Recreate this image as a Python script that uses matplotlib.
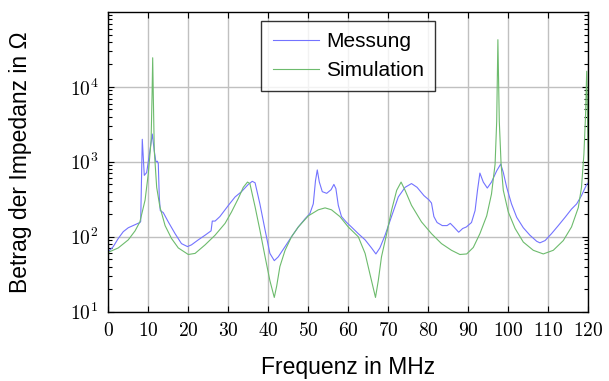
import numpy as np
import matplotlib
matplotlib.use("Agg")
import matplotlib.pyplot as plt
from matplotlib.ticker import LogLocator, FixedLocator, NullFormatter

plt.rcParams["mathtext.fontset"] = "cm"

# Messung (blue)
freq_mess = [0, 1.25, 2.5, 3.75, 5, 6.7, 7.9, 8.1, 8.5, 9.0, 9.6, 10.4, 11.0, 11.5,
             11.9, 12.25, 12.5, 12.75, 13, 13.75, 15, 16.7, 18.3, 19.8, 20.8, 22.5,
             24.2, 25.7, 26.0, 26.7, 27.9, 30.2, 31.7, 33.3, 35, 36, 36.7, 37.9,
             39.2, 40.4, 41.5, 42.5, 44.2, 45.8, 47.5, 49.2, 50.4, 51.25, 51.8,
             52.25, 52.75, 53.5, 54.6, 55.7, 56.4, 56.9, 57.5, 58.3, 59.6, 60.8,
             62.5, 64.2, 65.8, 66.9, 67.9, 69.2, 70.8, 72.5, 74.2, 75.8, 77.2,
             78.9, 80.2, 80.8, 81.4, 82.2, 83.5, 84.7, 85.5, 86.4, 87.6, 88.6,
             89.5, 90.8, 91.7, 92.3, 92.9, 93.75, 94.75, 95.8, 97.1, 98.1, 98.75,
             99.6, 100.8, 102.1, 103.75, 105.4, 107.1, 107.9, 109.2, 110.8, 112.5,
             114.2, 115.8, 117.1, 118.3, 119.6, 120]
z_mess = [63, 74, 95, 117, 132, 145, 155, 160, 2000, 660, 720, 1400, 2350, 1400,
          1000, 1020, 950, 340, 224, 210, 158, 110, 81, 74, 78, 91,
          105, 120, 162, 162, 186, 270, 340, 400, 500, 550, 525, 275,
          123, 60, 48, 54, 74, 100, 135, 174, 204, 275, 560,
          780, 540, 400, 380, 425, 500, 440, 263, 186, 155, 135,
          110, 91, 71, 59, 71, 105, 186, 340, 457, 513, 457,
          355, 309, 282, 186, 155, 141, 141, 151, 135, 115, 129,
          135, 155, 224, 417, 708, 537, 447, 537, 759, 933, 724,
          457, 275, 182, 132, 105, 87, 83, 89, 110, 141,
          182, 234, 275, 355, 500, 525]

# Simulation (green)
freq_sim = [0, 2.5, 5, 6.7, 7.9, 9.2, 10, 10.7, 10.95, 11.1, 11.25, 11.5, 12.1,
            12.9, 14.2, 15.8, 17.5, 20, 21.7, 24.2, 26.7, 29.2, 30.8, 32.5, 33.75,
            34.8, 35.4, 36.7, 37.9, 39.2, 40.4, 41.5, 42.1, 42.9, 44.2, 45.8, 47.5,
            50, 52.5, 54.2, 55.8, 57.9, 60, 62.5, 64.2, 65.4, 66.8, 67.5, 68.3,
            69.6, 70.8, 72.1, 73.2, 74.2, 75.8, 78.3, 80.8, 83.3, 85.8, 87.9, 89.6,
            91.25, 92.9, 94.6, 95.8, 96.7, 97.1, 97.4, 97.75, 98.2, 98.75, 100,
            101.7, 103.75, 106.25, 108.75, 111.25, 113.75, 115.8, 117.5, 118.3,
            118.9, 119.3, 119.6, 119.8, 120]
z_sim = [62, 71, 91, 120, 158, 309, 692, 1900, 8000, 24500, 8000, 1400, 457,
         251, 141, 95, 71, 58, 60, 78, 105, 151, 214, 324, 457,
         537, 513, 251, 123, 54, 26, 15.5, 22, 40, 66, 100, 135,
         190, 229, 243, 229, 186, 135, 100, 60, 32, 15.5, 26, 54,
         110, 224, 417, 537, 417, 263, 158, 110, 81, 66, 58, 59,
         72, 110, 190, 372, 933, 3470, 42700, 3470, 933, 417, 214,
         129, 85, 66, 59, 66, 89, 135, 245, 457,
         1260, 4000, 16200, 4000, 1000]

BLUE = "#7373ff"
GREEN = "#6dbb6d"
SANS = "Liberation Sans"

fig = plt.figure(figsize=(6.09, 3.81), dpi=100)
ax = fig.add_axes([0.1778, 0.1819, 0.7882, 0.7866])

ax.plot(freq_mess, z_mess, color=BLUE, linewidth=0.8, label="Messung")
ax.plot(freq_sim, z_sim, color=GREEN, linewidth=0.8, label="Simulation")

ax.set_yscale("log")
ax.set_xlim(0, 120)
ax.set_ylim(10, 1e5)

xticks = list(range(0, 121, 10))
ax.xaxis.set_major_locator(FixedLocator(xticks))
ax.set_xticklabels([f"${t}$" for t in xticks])
yticks = [1e1, 1e2, 1e3, 1e4]
ax.yaxis.set_major_locator(FixedLocator(yticks))
ax.set_yticklabels([f"$10^{{{int(np.log10(t))}}}$" for t in yticks])
ax.yaxis.set_minor_locator(LogLocator(base=10, subs=np.arange(2, 10)))
ax.yaxis.set_minor_formatter(NullFormatter())

ax.tick_params(which="both", direction="in", top=True, right=True,
               labelsize=14, width=0.8)
ax.tick_params(which="major", length=4.5, pad=7)
ax.tick_params(which="minor", length=3)

ax.grid(True, which="major", color="#c0c0c0", linewidth=1.0)
for sp in ax.spines.values():
    sp.set_linewidth(1.0)

ax.set_xlabel("Frequenz in MHz", fontsize=16.5, family=SANS, labelpad=11)
ax.set_ylabel("Betrag der Impedanz in Ω", fontsize=16.5, family=SANS, labelpad=27)

leg = ax.legend(loc="upper center", bbox_to_anchor=(0.5, 0.97), borderaxespad=0,
                prop={"family": SANS, "size": 15}, frameon=True, fancybox=False,
                handlelength=2.2, handletextpad=0.35, borderpad=0.55,
                labelspacing=0.45)
leg.get_frame().set_edgecolor("black")
leg.get_frame().set_linewidth(1.0)

fig.savefig("out.png", dpi=100)
